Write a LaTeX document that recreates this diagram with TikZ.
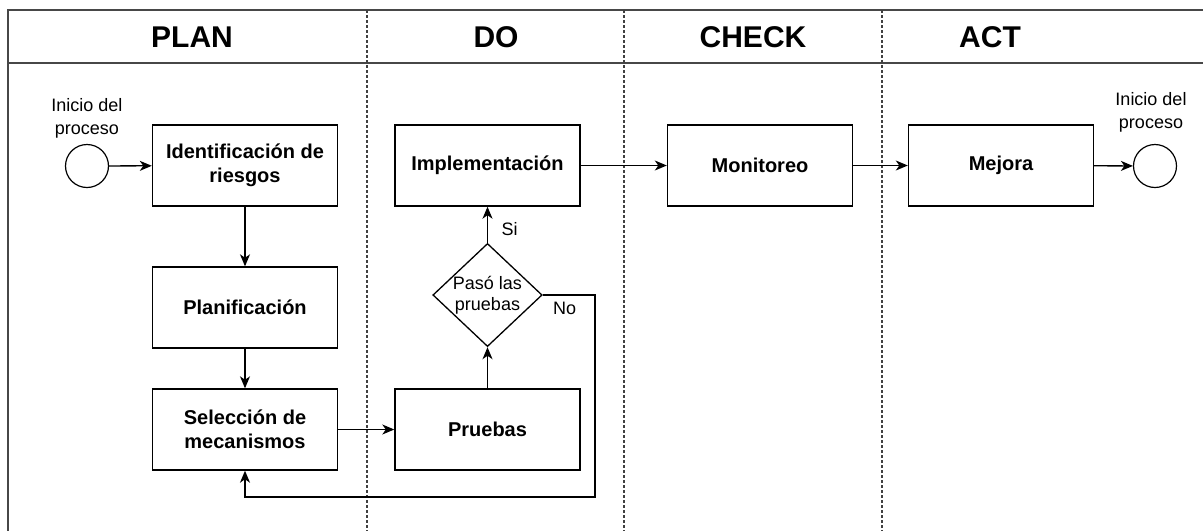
\documentclass[tikz,border=0pt]{standalone}
\usepackage{fontspec}
\setmainfont{Liberation Sans}
\usetikzlibrary{arrows.meta,shapes.geometric}

\begin{document}
\begin{tikzpicture}[x=1pt,y=-1pt,
  frameline/.style={draw=black!72,line width=2pt},
  lanesep/.style={draw=black!75,line width=1.1pt,dash pattern=on 3pt off 2pt},
  lanetitle/.style={font=\fontsize{30}{36}\selectfont\bfseries,inner sep=0pt},
  stepbox/.style={draw,line width=1.4pt,minimum width=185pt,minimum height=81pt,
    align=center,inner sep=0pt,font=\fontsize{20}{24}\selectfont\bfseries},
  endpoint/.style={circle,draw,line width=1.2pt,minimum size=43pt,inner sep=0pt},
  decision/.style={diamond,draw,line width=1.3pt,shape aspect=1.06,inner sep=0pt,
    align=center,font=\fontsize{18}{21}\selectfont},
  note/.style={align=center,inner sep=0pt,font=\fontsize{18}{23}\selectfont},
  flow/.style={line width=1.3pt,-{Stealth[length=12pt,width=10pt,inset=3.5pt]}}
]
% canvas
\useasboundingbox[fill=white] (0,0) rectangle (1203,531);

% swimlane frame and header
\draw[frameline] (1203,10) -- (8,10) -- (8,531);
\draw[frameline] (8,63) -- (1203,63);
\foreach \x in {367,624,882}
  \draw[lanesep] (\x,10) -- (\x,531);

\node[lanetitle] (tplan)  at (192,37) {PLAN};
\node[lanetitle] (tdo)    at (496,37) {DO};
\node[lanetitle] (tcheck) at (753,37) {CHECK};
\node[lanetitle] (tact)   at (990,37) {ACT};

% start and end events
\node[endpoint] (start) at (87,166) {};
\node[note] (startlbl) at (87,118) {Inicio del\\proceso};
\node[endpoint] (finish) at (1155,166) {};
\node[note] (finishlbl) at (1151,112) {Inicio del\\proceso};

% process steps
\node[stepbox] (ident) at (245,165.5) {Identificación de\\riesgos};
\node[stepbox] (plan)  at (245,307.5) {Planificación};
\node[stepbox] (sel)   at (245,429.5) {Selección de\\mecanismos};
\node[stepbox] (prue)  at (487.5,429.5) {Pruebas};
\node[decision] (dec)  at (487.5,295) {Pasó las\\pruebas};
\node[stepbox] (impl)  at (487.5,165.5) {Implementación};
\node[stepbox] (mon)   at (760,165.5) {Monitoreo};
\node[stepbox] (mej)   at (1001,165.5) {Mejora};

% flow
\draw[flow] (start) -- (ident);
\draw[flow] (ident) -- (plan);
\draw[flow] (plan) -- (sel);
\draw[flow] (sel) -- (prue);
\draw[flow] (prue) -- (dec);
\draw[flow] (dec) -- (impl);
\node[note,anchor=west] (si) at ([xshift=14pt,yshift=14pt]dec.north) {Si};
\draw[flow] (impl) -- (mon);
\draw[flow] (mon) -- (mej);
\draw[flow] (mej) -- (finish);

% rejected tests go back to mechanism selection
\coordinate (loopcorner) at (595,497);
\draw[flow] (dec.east) -| (loopcorner) -| (sel.south);
\node[note,anchor=west] (no) at ([xshift=10pt,yshift=-13pt]dec.east) {No};
\end{tikzpicture}
\end{document}
